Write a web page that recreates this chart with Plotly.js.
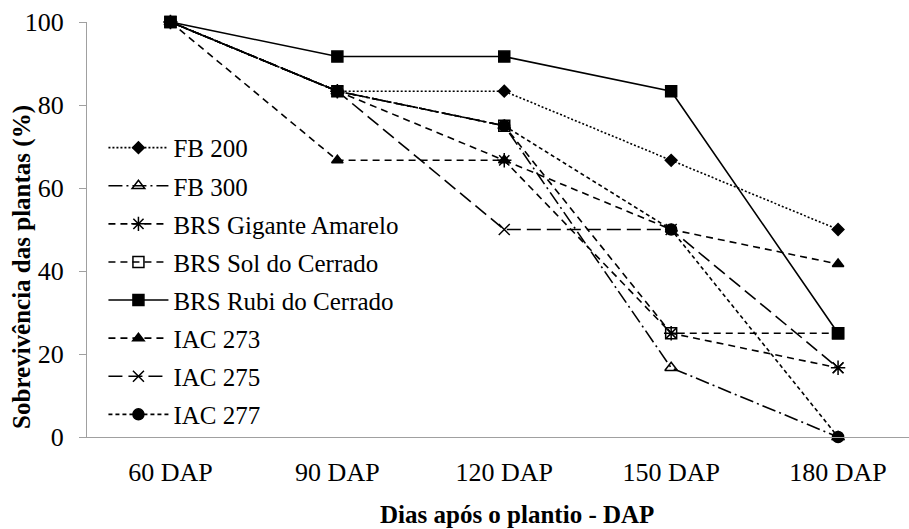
<!DOCTYPE html>
<html>
<head>
<meta charset="utf-8">
<script src="https://cdn.plot.ly/plotly-3.0.1.min.js"></script>
<style>
html,body{margin:0;padding:0;background:#fff;}
#chart{width:909px;height:529px;}
</style>
</head>
<body>
<div id="chart"></div>
<script>
const categories = ['60 DAP', '90 DAP', '120 DAP', '150 DAP', '180 DAP'];
const seriesNames = ['FB 200', 'FB 300', 'BRS Gigante Amarelo', 'BRS Sol do Cerrado', 'BRS Rubi do Cerrado', 'IAC 273', 'IAC 275', 'IAC 277'];
const fb200 = [100, 83.33, 83.33, 66.67, 50];
const fb300 = [100, 83.33, 75, 16.67, 0];
const brsGigante = [100, 83.33, 66.67, 25, 16.67];
const brsSol = [100, 83.33, 75, 25, 25];
const brsRubi = [100, 91.67, 91.67, 83.33, 25];
const iac273 = [100, 66.67, 66.67, 50, 41.67];
const iac275 = [100, 83.33, 50, 50, 16.67];
const iac277 = [100, 83.33, 75, 50, 0];
const xTitle = 'Dias após o plantio - DAP';
const yTitle = 'Sobrevivência das plantas (%)';

const values = [fb200, fb300, brsGigante, brsSol, brsRubi, iac273, iac275, iac277];
const styles = [
  {dash: '2px,2px', symbol: 'diamond', size: 9},
  {dash: '14px,4px,2px,4px', symbol: 'triangle-up-open', size: 11},
  {dash: '7px,5px', symbol: 'asterisk-open', size: 12},
  {dash: '7px,5px', symbol: 'square-open', size: 11},
  {dash: 'solid', symbol: 'square', size: 11},
  {dash: '7px,5px', symbol: 'triangle-up', size: 10},
  {dash: '14px,6px', symbol: 'x-thin-open', size: 11},
  {dash: '4px,3px', symbol: 'circle', size: 11}
];

const traces = values.map((v, i) => ({
  type: 'scatter',
  mode: 'lines+markers',
  name: seriesNames[i],
  legendgroup: 'g' + i,
  x: categories,
  y: v,
  cliponaxis: false,
  line: {color: '#000', width: 1.6, dash: styles[i].dash},
  marker: {color: '#000', symbol: styles[i].symbol, size: styles[i].size, line: {color: '#000', width: 1.5}}
}));

const FONT = 'serif';

const layout = {
  width: 909, height: 529,
  margin: {l: 87, r: 0, t: 22, b: 92},
  paper_bgcolor: '#fff', plot_bgcolor: '#fff',
  font: {family: FONT, size: 25, color: '#000'},
  showlegend: true,
  legend: {x: 0.02, y: 0.752, xanchor: 'left', yanchor: 'top', bgcolor: 'rgba(0,0,0,0)',
           font: {family: FONT, size: 25, color: '#000'}, itemwidth: 60,
           traceorder: 'grouped', tracegroupgap: 2.6},
  xaxis: {
    type: 'category', range: [-0.5, 4.425], showgrid: false, zeroline: false,
    showline: true, linecolor: '#a0a0a0', linewidth: 1, ticks: '',
    ticklabelstandoff: 12,
    tickfont: {family: FONT, size: 26, color: '#000'}
  },
  yaxis: {
    range: [0, 100], dtick: 20, showgrid: false, zeroline: false,
    showline: true, linecolor: '#a0a0a0', linewidth: 1, ticks: 'outside', ticklen: 7, tickcolor: '#a0a0a0',
    ticklabelstandoff: 10,
    tickfont: {family: FONT, size: 26, color: '#000'}
  },
  annotations: [
    {xref: 'paper', yref: 'paper', x: 0.523, y: -0.186, xanchor: 'center', yanchor: 'middle',
     text: '<b>' + xTitle + '</b>', showarrow: false, font: {family: FONT, size: 25, color: '#000'}},
    {xref: 'paper', yref: 'paper', x: -0.079, y: 0.41, xanchor: 'center', yanchor: 'middle', textangle: -90,
     text: '<b>' + yTitle + '</b>', showarrow: false, font: {family: FONT, size: 25, color: '#000'}}
  ]
};

Plotly.newPlot('chart', traces, layout, {staticPlot: true, displayModeBar: false});
</script>
</body>
</html>
